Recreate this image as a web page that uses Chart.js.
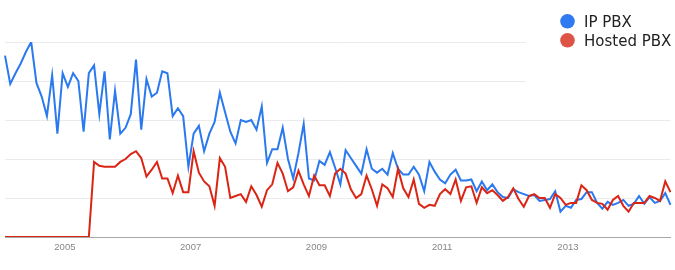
<!DOCTYPE html>
<html>
<head>
<meta charset="utf-8">
<script src="https://cdn.jsdelivr.net/npm/chart.js@4"></script>
<style>
  html, body { margin: 0; padding: 0; background: #fff; }
  #wrap { width: 675px; height: 270px; position: relative; }
</style>
</head>
<body>
<div id="wrap"><canvas id="c" width="675" height="270"></canvas></div>
<script>
// ---- data (monthly, Jan 2004 .. Aug 2014, Google Trends index 0-100) ----
const seriesNames = ["IP PBX", "Hosted PBX"];
const startYear = 2004;
const monthCount = 128;
const yearTickLabels = ["2005", "2007", "2009", "2011", "2013"];
const yTicks = [0, 20, 40, 60, 80, 100];

const ipPbx = [
  93, 78.5, 84, 89, 95, 100, 79, 72, 62, 83, 53, 84,
  77, 84, 80, 54, 84, 88, 63, 85, 50, 75, 53, 56,
  63, 91, 55, 81, 72, 74, 85, 84, 62, 66, 62, 36,
  53, 57, 44, 53, 59, 74, 64, 54, 48, 60, 59, 60,
  55, 67, 38, 45, 45, 56, 40, 30, 43, 58, 30, 29,
  39, 37, 43.5, 35.5, 27, 44.5, 40.5, 36.5, 32.5, 45, 35, 33,
  35, 32, 43, 35, 32, 32, 36, 32, 23.5, 38.5, 33.5, 29.5,
  27.5, 32, 34.5, 29, 29, 29.5, 23.5, 28.5, 24, 27, 23, 20.5,
  20, 24.5, 23, 22, 21, 21.5, 18.5, 19, 19.5, 23.5, 13, 16,
  15, 19, 19.5, 23, 23, 17.5, 14.5, 18, 16.5, 17.5, 19, 16,
  17, 21, 17, 20.5, 17.5, 18.5, 22.5, 16.5
];

const hostedPbx = [
  0, 0, 0, 0, 0, 0, 0, 0, 0, 0, 0, 0,
  0, 0, 0, 0, 0, 38.5, 36.5, 36, 36, 36, 38.5, 40,
  42.5, 44, 40.5, 31, 34.5, 38.5, 30, 30, 22.5, 31.5, 23, 23,
  44, 33, 28.5, 26, 16, 40.5, 36, 20, 21, 22, 18, 26,
  21.5, 15.5, 24, 27, 38, 32.5, 23.5, 25.5, 34, 27, 21, 31.5,
  26.5, 26.5, 21, 32.5, 35, 32.5, 24.5, 20, 22, 31.5, 24.5, 16,
  27, 25, 20.5, 35, 25, 20.5, 29.5, 17, 15, 16.5, 16, 22,
  24.5, 22, 29.5, 18.5, 25.5, 26, 17.5, 25.5, 22.5, 24, 21.5, 18.5,
  20.5, 25, 19.5, 15.5, 21, 22, 20, 20, 15, 22, 20, 16.5,
  17.5, 17.5, 26.5, 24, 19, 17.5, 17, 14, 19, 21, 16, 13,
  17.5, 17.5, 17.5, 21, 20, 18.5, 28.5, 23
];

// ---- category labels: one per month ----
const monthLabels = [];
for (let i = 0; i < monthCount; i++) {
  const y = startYear + Math.floor(i / 12);
  const m = (i % 12) + 1;
  monthLabels.push(y + "-" + (m < 10 ? "0" + m : m));
}

const lineColors = ["#2a79ee", "#db2514"];
const legendColors = ["#2f7af0", "#dd5446"];

const legendPlugin = {
  id: "trendLegend",
  afterDraw(chart) {
    const ctx = chart.ctx;
    ctx.save();
    // white panel behind the legend (clips the upper grid lines)
    ctx.fillStyle = "#ffffff";
    ctx.fillRect(526, 0, 149, 100);
    const rows = [27.3, 46.3];
    chart.data.datasets.forEach((ds, k) => {
      const cy = rows[k] - 6;
      ctx.beginPath();
      ctx.arc(567.5, cy, 7.3, 0, Math.PI * 2);
      ctx.fillStyle = legendColors[k];
      ctx.fill();
      ctx.fillStyle = "#222222";
      ctx.font = "15px 'DejaVu Sans'";
      ctx.textBaseline = "alphabetic";
      ctx.textAlign = "left";
      ctx.fillText(ds.label, 584, rows[k]);
    });
    ctx.restore();
  }
};

new Chart(document.getElementById("c"), {
  type: "line",
  data: {
    labels: monthLabels,
    datasets: [
      {
        label: seriesNames[0],
        data: ipPbx,
        borderColor: lineColors[0],
        backgroundColor: lineColors[0],
        borderWidth: 2,
        pointRadius: 0,
        tension: 0,
        fill: false,
        order: 2
      },
      {
        label: seriesNames[1],
        data: hostedPbx,
        borderColor: lineColors[1],
        backgroundColor: lineColors[1],
        borderWidth: 2,
        pointRadius: 0,
        tension: 0,
        fill: false,
        order: 1
      }
    ]
  },
  options: {
    responsive: false,
    animation: false,
    events: [],
    layout: { padding: { left: 5, right: 4.5, top: 42, bottom: 11.6 } },
    plugins: {
      legend: { display: false },
      tooltip: { enabled: false },
      title: { display: false }
    },
    scales: {
      x: {
        type: "category",
        offset: false,
        grid: { display: false, drawTicks: false },
        border: { display: true, color: "#a8a8a8", width: 1 },
        ticks: {
          autoSkip: false,
          maxRotation: 0,
          minRotation: 0,
          padding: 5,
          labelOffset: -3,
          color: "#868686",
          font: { family: "'Liberation Sans', Arial, sans-serif", size: 9.5 },
          callback: function (value) {
            const lab = this.getLabelForValue(value);
            const yr = lab.slice(0, 4);
            if (lab.slice(5) === "01" && yearTickLabels.includes(yr)) return yr;
            return null;
          }
        }
      },
      y: {
        min: yTicks[0],
        max: yTicks[yTicks.length - 1],
        afterBuildTicks: (scale) => { scale.ticks = yTicks.map(v => ({ value: v })); },
        grid: {
          drawTicks: false,
          color: (c) => (c.tick && c.tick.value === 0 ? "rgba(0,0,0,0)" : "#ebebeb"),
          lineWidth: 1
        },
        border: { display: false },
        ticks: { display: false }
      }
    }
  },
  plugins: [legendPlugin]
});
</script>
</body>
</html>
